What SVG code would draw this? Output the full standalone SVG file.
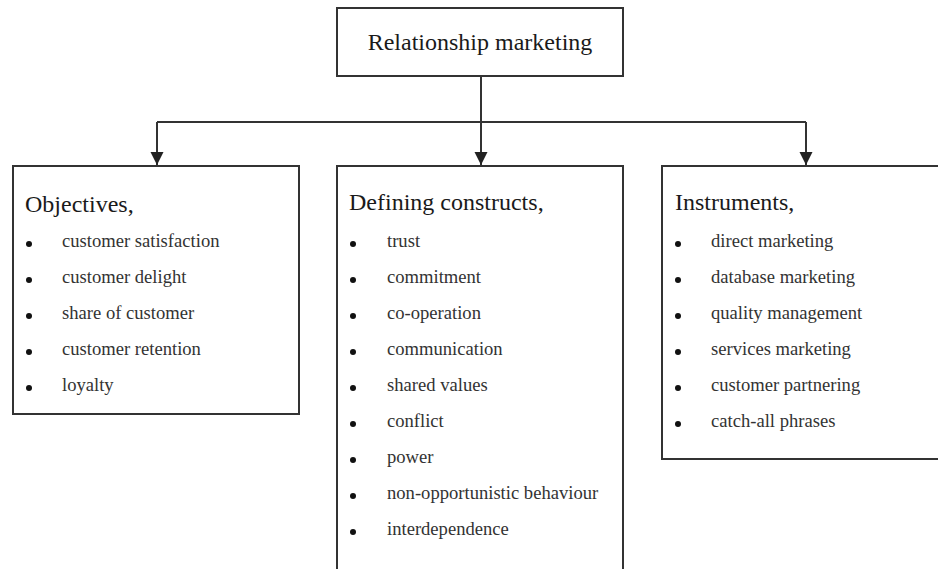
<svg xmlns="http://www.w3.org/2000/svg" width="938" height="569" viewBox="0 0 938 569">
<defs>
<style>
.box{fill:#fff;stroke:#333;stroke-width:2}
.ln{fill:none;stroke:#333;stroke-width:2}
.t{font-family:"Liberation Serif","Times New Roman",serif;fill:#1a1a1a}
.h{font-size:24px}
.i{font-size:18.6px;fill:#333}
.b{fill:#111}
</style>
<marker id="ar" viewBox="0 0 10 10" markerWidth="13" markerHeight="14" refX="10" refY="5" orient="auto" markerUnits="userSpaceOnUse">
<path d="M0,0 L10,5 L0,10 Z" fill="#222"/>
</marker>
</defs>
<rect width="938" height="569" fill="#fff"/>
<g id="connectors">
<path class="ln" d="M481,76 V165" marker-end="url(#ar)"/>
<path class="ln" d="M157,122 H806"/>
<path class="ln" d="M157,122 V165" marker-end="url(#ar)"/>
<path class="ln" d="M806,122 V165" marker-end="url(#ar)"/>
</g>
<g id="root">
<rect class="box" x="337" y="8" width="286" height="68"/>
<text class="t h" x="480" y="50" text-anchor="middle">Relationship marketing</text>
</g>
<g id="objectives">
<rect class="box" x="13" y="166" width="286" height="248"/>
<text class="t h" x="25" y="212">Objectives,</text>
<g class="b"><circle cx="29" cy="244" r="3"/><circle cx="29" cy="280" r="3"/><circle cx="29" cy="316" r="3"/><circle cx="29" cy="352" r="3"/><circle cx="29" cy="388" r="3"/></g>
<text class="t i" x="62" y="247">customer satisfaction</text>
<text class="t i" x="62" y="283">customer delight</text>
<text class="t i" x="62" y="319">share of customer</text>
<text class="t i" x="62" y="355">customer retention</text>
<text class="t i" x="62" y="391">loyalty</text>
</g>
<g id="constructs">
<rect class="box" x="337" y="166" width="286" height="420"/>
<text class="t h" x="349" y="210">Defining constructs,</text>
<g class="b"><circle cx="353" cy="244" r="3"/><circle cx="353" cy="280" r="3"/><circle cx="353" cy="316" r="3"/><circle cx="353" cy="352" r="3"/><circle cx="353" cy="388" r="3"/><circle cx="353" cy="424" r="3"/><circle cx="353" cy="460" r="3"/><circle cx="353" cy="496" r="3"/><circle cx="353" cy="532" r="3"/></g>
<text class="t i" x="387" y="247">trust</text>
<text class="t i" x="387" y="283">commitment</text>
<text class="t i" x="387" y="319">co-operation</text>
<text class="t i" x="387" y="355">communication</text>
<text class="t i" x="387" y="391">shared values</text>
<text class="t i" x="387" y="427">conflict</text>
<text class="t i" x="387" y="463">power</text>
<text class="t i" x="387" y="499">non-opportunistic behaviour</text>
<text class="t i" x="387" y="535">interdependence</text>
</g>
<g id="instruments">
<rect class="box" x="662" y="166" width="290" height="293"/>
<text class="t h" x="675" y="210">Instruments,</text>
<g class="b"><circle cx="678" cy="244" r="3"/><circle cx="678" cy="280" r="3"/><circle cx="678" cy="316" r="3"/><circle cx="678" cy="352" r="3"/><circle cx="678" cy="388" r="3"/><circle cx="678" cy="424" r="3"/></g>
<text class="t i" x="711" y="247">direct marketing</text>
<text class="t i" x="711" y="283">database marketing</text>
<text class="t i" x="711" y="319">quality management</text>
<text class="t i" x="711" y="355">services marketing</text>
<text class="t i" x="711" y="391">customer partnering</text>
<text class="t i" x="711" y="427">catch-all phrases</text>
</g>
</svg>
